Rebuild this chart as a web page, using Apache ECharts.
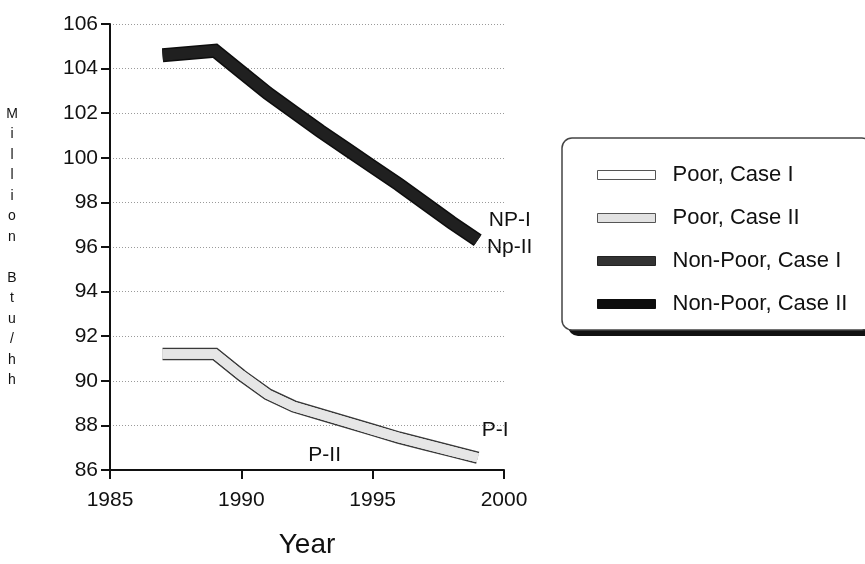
<!DOCTYPE html>
<html><head><meta charset="utf-8">
<script src="https://cdn.jsdelivr.net/npm/echarts@6/dist/echarts.min.js"></script>
<style>html,body{margin:0;padding:0;background:#fff}#c{width:865px;height:564px}</style>
</head><body><div id="c"></div>
<script>
// ---- data ----
const years = [1987, 1988, 1989, 1990, 1991, 1992, 1993, 1994, 1995, 1996, 1997, 1998, 1999];
const poorCaseI = [91.2, 91.2, 91.2, 90.25, 89.4, 88.85, 88.5, 88.15, 87.8, 87.45, 87.15, 86.85, 86.55];
const poorCaseII = [91.2, 91.2, 91.2, 90.25, 89.4, 88.85, 88.5, 88.15, 87.8, 87.45, 87.15, 86.85, 86.55];
const nonPoorCaseI = [104.6, 104.7, 104.8, 103.85, 102.9, 102.05, 101.2, 100.4, 99.6, 98.8, 97.95, 97.1, 96.3];
const nonPoorCaseII = [104.6, 104.7, 104.8, 103.85, 102.9, 102.05, 101.2, 100.4, 99.6, 98.8, 97.95, 97.1, 96.3];
const seriesNames = ['Poor, Case I', 'Poor, Case II', 'Non-Poor, Case I', 'Non-Poor, Case II'];
const xTicks = {min: 1985, max: 2000, step: 5};
const yTicks = {min: 86, max: 106, step: 2};
const yTitle = 'Million Btu/hh';
const xTitle = 'Year';
// annotation texts anchored at data coordinates
const annotations = [
  {text: 'NP-I', at: [1999.42, 97.18]},
  {text: 'Np-II', at: [1999.35, 95.98]},
  {text: 'P-I', at: [1999.15, 87.77]},
  {text: 'P-II', at: [1992.55, 86.65]}
];

const FONT = '"Liberation Sans", Arial, Helvetica, sans-serif';
function pairs(vals) { return years.map((y, i) => [y, vals[i]]); }
const stackedName = yTitle.split('').join('\n');

function lineSeries(name, vals, color, width) {
  return {
    name: name, type: 'line', data: pairs(vals), showSymbol: false, symbol: 'none',
    silent: true, animation: false,
    lineStyle: {color: color, width: width, cap: 'butt', join: 'miter'},
    itemStyle: {color: color},
    emphasis: {disabled: true}
  };
}

const chart = echarts.init(document.getElementById('c'));
const baseGraphic = [
  {type: 'rect', id: 'legShadow', z: 1, shape: {x: 568, y: 144, width: 310, height: 192, r: 10}, style: {fill: '#111'}},
  {type: 'rect', id: 'legBox', z: 2, shape: {x: 562, y: 138, width: 310, height: 192, r: 10}, style: {fill: '#fff', stroke: '#444', lineWidth: 1.5}}
];
chart.setOption({
  animation: false,
  backgroundColor: '#fff',
  grid: {left: 110, right: 361, top: 24, bottom: 91, containLabel: false},
  xAxis: {
    type: 'value', min: xTicks.min, max: xTicks.max, interval: xTicks.step,
    name: xTitle, nameLocation: 'middle', nameGap: 61,
    nameTextStyle: {fontSize: 28, color: '#111', fontFamily: FONT},
    axisLine: {show: true, onZero: false, lineStyle: {color: '#111', width: 2}},
    axisTick: {show: true, length: 9, lineStyle: {color: '#111', width: 2}},
    axisLabel: {fontSize: 21, color: '#111', margin: 20, fontFamily: FONT, formatter: v => String(v)},
    splitLine: {show: false}
  },
  yAxis: {
    type: 'value', min: yTicks.min, max: yTicks.max, interval: yTicks.step,
    name: stackedName, nameLocation: 'middle', nameRotate: 0, nameGap: 98,
    nameTextStyle: {fontSize: 14, lineHeight: 20.5, color: '#111', align: 'center', fontFamily: FONT, padding: [16, 0, 0, 0]},
    axisLine: {show: true, lineStyle: {color: '#111', width: 2}},
    axisTick: {show: true, length: 9, lineStyle: {color: '#111', width: 2}},
    axisLabel: {fontSize: 21, color: '#111', margin: 12, fontFamily: FONT, padding: [0, 0, 8, 0]},
    splitLine: {show: true, lineStyle: {color: '#9a9a9a', type: [1, 2], width: 1}}
  },
  legend: {
    orient: 'vertical', left: 592, top: 159, itemWidth: 58, itemHeight: 9, itemGap: 21,
    icon: 'rect', z: 10, selectedMode: false,
    textStyle: {fontSize: 22, color: '#111', fontFamily: FONT, padding: [0, 0, 0, 12]},
    data: [
      {name: seriesNames[0], itemStyle: {color: '#ffffff', borderColor: '#555', borderWidth: 1}},
      {name: seriesNames[1], itemStyle: {color: '#e2e2e2', borderColor: '#555', borderWidth: 1}},
      {name: seriesNames[2], itemStyle: {color: '#333333', borderColor: '#222', borderWidth: 1}},
      {name: seriesNames[3], itemStyle: {color: '#0d0d0d', borderColor: '#0d0d0d', borderWidth: 1}}
    ]
  },
  series: [
    lineSeries('poorOutline', poorCaseI, '#3a3a3a', 12.5),
    lineSeries(seriesNames[0], poorCaseI, '#f6f6f6', 9.5),
    lineSeries(seriesNames[1], poorCaseII, '#e6e6e6', 9.5),
    lineSeries(seriesNames[3], nonPoorCaseII, '#0d0d0d', 14),
    lineSeries(seriesNames[2], nonPoorCaseI, '#202020', 11)
  ],
  graphic: baseGraphic
});

const labelGraphic = annotations.map((a, i) => {
  const p = chart.convertToPixel({gridIndex: 0}, a.at);
  return {type: 'text', id: 'ann' + i, z: 20, x: p[0], y: p[1],
    style: {text: a.text, fontSize: 21, fill: '#111', fontFamily: FONT, align: 'left', verticalAlign: 'middle'}};
});
chart.setOption({graphic: baseGraphic.concat(labelGraphic)});
</script>
</body></html>
